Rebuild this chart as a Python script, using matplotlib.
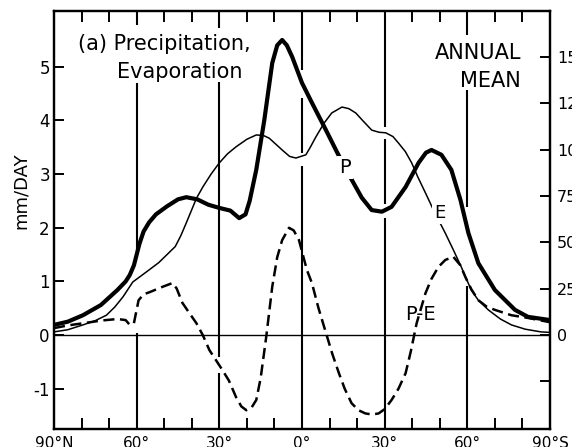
import matplotlib
matplotlib.use("Agg")
import matplotlib.pyplot as plt
import numpy as np

plt.rcParams['font.family'] = ['DejaVu Sans']
plt.rcParams['lines.scale_dashes'] = False

# x: latitude in degrees, negative = North, positive = South
lat_P = [-90, -85, -79.5, -73, -67, -64, -62.5, -61, -60, -59, -57.5, -55.5, -53, -49, -45, -42, -38,
         -34, -30, -26, -22.8, -20.5, -19, -16.6, -13.7, -10.8, -9, -7.2, -5.5, -3.6, 0, 3.6,
         8.7, 12.7, 17, 21.7, 25.3, 29, 32.5, 37.6, 42.3, 45, 47, 50.6, 54.2, 57.5, 60.4, 64,
         70, 77.3, 82, 90]
P = [0.19, 0.25, 0.37, 0.56, 0.84, 1.0, 1.12, 1.3, 1.5, 1.7, 1.93, 2.1, 2.25, 2.4, 2.53, 2.57, 2.53,
     2.43, 2.37, 2.32, 2.18, 2.25, 2.5, 3.08, 4.0, 5.07, 5.4, 5.5, 5.4, 5.19, 4.7, 4.33,
     3.82, 3.41, 2.99, 2.56, 2.33, 2.30, 2.39, 2.76, 3.21, 3.40, 3.45, 3.36, 3.08, 2.52, 1.90, 1.34,
     0.84, 0.47, 0.34, 0.28]

lat_E = [-90, -85, -79.5, -75, -71, -68, -65, -61.4, -58.5, -56.4, -52, -49, -46, -44, -42,
         -38.3, -36, -33, -30, -27, -23.9, -20, -16.6, -14, -11.9, -7.2, -4.5, -2.2, 1.4, 3,
         5, 8, 10.8, 14.5, 17, 19.5, 22, 25.3, 28, 30.4, 33, 35, 37.5, 39.8, 42, 44.8, 48,
         52, 55, 57.8, 61.4, 64, 67.6, 72, 76, 81, 86.7, 90]
E = [0.06, 0.1, 0.19, 0.27, 0.37, 0.52, 0.71, 0.99, 1.1, 1.18, 1.35, 1.5, 1.65, 1.85, 2.09,
     2.55, 2.76, 3.0, 3.21, 3.38, 3.51, 3.65, 3.73, 3.72, 3.67, 3.45, 3.33, 3.30, 3.36, 3.5,
     3.69, 3.95, 4.14, 4.25, 4.22, 4.14, 4.0, 3.82, 3.78, 3.77, 3.7, 3.58, 3.42, 3.21, 2.95, 2.65, 2.3,
     1.90, 1.58, 1.27, 0.84, 0.65, 0.47, 0.3, 0.19, 0.11, 0.06, 0.05]

lat_PE = [-90, -85, -79.5, -73, -67, -64, -62.5, -61, -60.3, -59.3, -57.5, -55.3, -50.6, -47,
          -45.5, -43.4, -41, -38.3, -36, -33.6, -28.9, -26.5, -23.9, -22, -20.2, -18.3, -16.6,
          -15, -13, -10.8, -9, -7.2, -4.7, -3, -1.1, 1.8, 3.6, 6, 8.7, 11, 13.4, 15.5, 18,
          20.5, 23, 25.5, 27.8, 30, 32.5, 35, 37.6, 39.5, 41.6, 44.8, 47, 49.5, 52, 54.9,
          57.5, 59.3, 61.5, 64, 67, 70, 76, 82, 90]
PE = [0.13, 0.18, 0.22, 0.27, 0.30, 0.28, 0.19, 0.22, 0.4, 0.65, 0.76, 0.80, 0.90, 0.97,
      0.87, 0.6, 0.42, 0.22, 0.0, -0.28, -0.65, -0.85, -1.16, -1.33, -1.40, -1.35, -1.21,
      -0.8, -0.04, 0.90, 1.45, 1.77, 2.0, 1.95, 1.77, 1.21, 0.97, 0.5, 0.04, -0.35, -0.71, -1.0, -1.27,
      -1.4, -1.46, -1.48, -1.46, -1.38, -1.21, -1.0, -0.71, -0.3, 0.22, 0.78, 1.05, 1.27, 1.4, 1.46,
      1.3, 1.08, 0.85, 0.65, 0.53, 0.47, 0.37, 0.32, 0.24]

xticks = [-90, -60, -30, 0, 30, 60, 90]
xticklabels = ['90°N', '60°', '30°', '0°', '30°', '60°', '90°S']
yticks_left = [-1, 0, 1, 2, 3, 4, 5]
yticks_right = [-25, 0, 25, 50, 75, 100, 125, 150]
yticklabels_right = ['', '0', '25', '50', '75', '100', '125', '150']
WM2_PER_MMDAY = 28.94

YMIN, YMAX = -1.75, 6.04

fig = plt.figure(figsize=(5.72, 4.47), dpi=100)
ax = fig.add_axes([54/572, 1-429/447, (550-54)/572, (429-11)/447])
ax.set_xlim(-90, 90)
ax.set_ylim(YMIN, YMAX)

# vertical reference lines with gaps (as in the original drawing)
vsegs = {
    -60: [(5.78, 6.04), (1.53, 4.70), (-1.75, 0.04)],
    -30: [(5.73, 6.04), (-0.41, 4.72), (-1.75, -0.71)],
    0: [(4.94, 6.04), (3.40, 4.42), (-1.75, 3.16)],
    30: [(3.88, 6.04), (2.45, 3.66), (-1.75, 2.18)],
    60: [(5.60, 6.04), (2.39, 4.57), (-1.75, 0.92)],
}
for xv, segs in vsegs.items():
    for y0, y1 in segs:
        ax.plot([xv, xv], [y0, y1], color='black', lw=1.5, solid_capstyle='butt', zorder=1)

ax.axhline(0, color='black', lw=1.0, zorder=1)

ax.plot(lat_E, E, color='black', lw=1.1, solid_joinstyle='round', zorder=3)
ax.plot(lat_P, P, color='black', lw=3.0, solid_joinstyle='round', solid_capstyle='round', zorder=4)
ax.plot(lat_PE, PE, color='black', lw=1.8, linestyle=(0, (8.0, 4.0)), zorder=3)

ax.set_xticks(xticks)
ax.set_xticklabels(xticklabels, fontsize=11)
ax.set_xticks([x for x in range(-80, 90, 10) if x % 30 != 0], minor=True)
ax.tick_params(axis='x', which='major', length=0, pad=5)
ax.tick_params(axis='x', which='minor', direction='in', length=8, width=1.4,
               top=True, bottom=True)

ax.set_yticks(yticks_left)
ax.set_yticklabels([str(v) for v in yticks_left], fontsize=12)
ax.tick_params(axis='y', which='major', direction='in', length=7.5, width=1.4, pad=3)

for s in ax.spines.values():
    s.set_linewidth(1.6)

ax2 = ax.twinx()
ax2.set_ylim(YMIN*WM2_PER_MMDAY, YMAX*WM2_PER_MMDAY)
ax2.set_yticks(yticks_right)
ax2.set_yticklabels(yticklabels_right, fontsize=11.5)
ax2.tick_params(axis='y', which='major', direction='in', length=7.5, width=1.4, pad=5)
for s in ax2.spines.values():
    s.set_linewidth(1.6)

fig.text(21/572, 1-191/447, 'mm/DAY', rotation=90, ha='center', va='center', fontsize=13)

ax.text(-81.3, 5.32, '(a) Precipitation,', fontsize=15, ha='left', va='baseline')
ax.text(-67.1, 4.79, 'Evaporation', fontsize=15, ha='left', va='baseline')
ax.text(79.5, 5.15, 'ANNUAL', fontsize=15, ha='right', va='baseline')
ax.text(79.5, 4.63, 'MEAN', fontsize=15, ha='right', va='baseline')

ax.text(15.6, 3.13, 'P', fontsize=14, ha='center', va='center', zorder=6,
        bbox=dict(facecolor='white', edgecolor='none', pad=1.5))
ax.text(50.1, 2.28, 'E', fontsize=13, ha='center', va='center', zorder=6,
        bbox=dict(facecolor='white', edgecolor='none', pad=1.5))
ax.text(42.8, 0.39, 'P-E', fontsize=14, ha='center', va='center', zorder=6)

fig.savefig('out.png', dpi=100)
